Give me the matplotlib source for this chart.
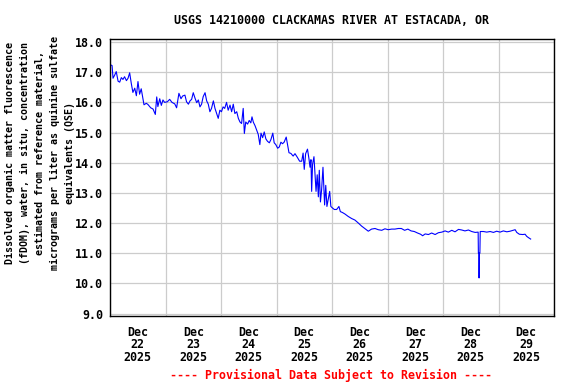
#!/usr/bin/env python3
"""USGS 14210000 Clackamas River at Estacada, OR - fDOM, Dec 22-29 2025."""

from datetime import datetime, timedelta

import matplotlib
matplotlib.use("Agg")
import matplotlib.pyplot as plt
import matplotlib.dates as mdates
from matplotlib.ticker import FormatStrFormatter, NullFormatter

# Timer etter Dec 22 00:00 og verdier lest av grafen (QSE, ug/L)
hours = [
    0.0, 0.9, 1.3, 2.0, 2.7, 3.5, 4.2, 4.9, 5.6, 6.3, 7.1, 7.8, 8.5, 9.2, 9.9,
    10.7, 11.4, 12.1, 12.8, 13.5, 14.1, 14.7, 15.7, 16.4, 17.6, 18.6, 19.6, 20.2,
    20.7, 21.5, 22.2, 22.9, 23.6, 24.8, 25.8, 26.8, 28.0, 28.8, 29.8, 30.7, 31.4,
    32.4, 33.1, 33.9, 34.6, 35.3, 36.0, 36.8, 37.5, 38.2, 38.9, 39.6, 40.3, 41.1,
    41.8, 42.5, 43.2, 43.9, 44.7, 45.4, 46.1, 46.8, 47.5, 48.2, 48.9, 49.6, 50.4,
    51.1, 51.9, 52.6, 53.3, 54.0, 54.8, 55.5, 56.2, 56.9, 57.6, 58.1, 58.7, 59.5,
    60.2, 60.9, 61.4, 62.0, 62.7, 63.4, 64.1, 64.8, 65.3, 66.0, 66.7, 67.4, 68.1,
    68.9, 69.6, 70.4, 71.0, 71.7, 72.5, 73.2, 73.9, 74.6, 75.3, 76.2, 76.8, 77.4,
    78.2, 79.2, 80.0, 81.0, 82.0, 82.9, 83.5, 84.0, 84.6, 85.4, 86.0, 86.5, 86.9,
    87.2, 87.6, 88.2, 88.8, 89.1, 89.6, 90.1, 90.5, 91.0, 91.5, 92.1, 92.8, 93.3,
    93.8, 94.4, 95.0, 95.5, 96.2, 97.0, 98.0, 99.0, 99.6, 100.5, 101.6, 103.0,
    104.5, 105.9, 107.4, 108.8, 110.2, 111.7, 113.1, 114.6, 116.0, 117.5, 118.9,
    120.3, 121.8, 123.2, 124.7, 126.0, 127.4, 128.8, 130.2, 131.6, 133.0, 134.3,
    135.2, 136.3, 137.7, 139.1, 140.6, 142.0, 143.5, 144.9, 146.3, 147.8, 149.2,
    150.7, 152.1, 153.5, 155.0, 156.4, 157.9, 159.2, 159.3, 159.55, 159.6, 159.7,
    159.95, 160.1, 161.5, 162.9, 164.4, 165.8, 167.2, 168.7, 170.1, 171.6, 173.0,
    174.4, 175.2, 175.9, 177.0, 178.5, 179.5, 180.2, 180.9, 181.9,
]
fdom = [
    17.25, 17.22, 16.8, 16.9, 17.02, 16.7, 16.67, 16.82, 16.76, 16.85, 16.72, 16.8,
    16.98, 16.63, 16.33, 16.47, 16.22, 16.69, 16.27, 16.45, 16.19, 15.92, 15.97,
    15.93, 15.82, 15.78, 15.6, 16.18, 15.86, 16.12, 15.9, 16.08, 16.0, 16.02, 16.1,
    16.0, 15.95, 15.82, 16.3, 16.12, 16.21, 16.24, 16.02, 15.94, 16.05, 16.1, 16.32,
    16.13, 15.99, 16.08, 15.85, 15.94, 16.19, 16.32, 16.05, 15.94, 15.69, 15.8,
    16.05, 15.8, 15.63, 15.47, 15.74, 15.69, 15.85, 15.8, 16.0, 15.74, 15.91, 15.69,
    15.94, 15.63, 15.69, 15.47, 15.35, 15.3, 15.8, 14.97, 15.35, 15.28, 15.4, 15.32,
    15.52, 15.34, 15.23, 15.09, 14.94, 14.6, 14.98, 14.83, 15.02, 14.79, 14.71,
    14.66, 14.77, 14.98, 14.66, 14.6, 14.48, 14.52, 14.68, 14.63, 14.68, 14.85,
    14.6, 14.33, 14.31, 14.22, 14.3, 14.18, 14.05, 14.05, 14.32, 13.78, 14.3, 14.45,
    14.15, 13.85, 14.1, 13.05, 13.95, 14.2, 13.4, 13.05, 13.6, 12.87, 13.75, 12.7,
    13.1, 13.85, 12.6, 13.25, 12.55, 12.8, 13.05, 12.55, 12.5, 12.45, 12.45, 12.55,
    12.38, 12.35, 12.3, 12.22, 12.15, 12.1, 12.0, 11.9, 11.82, 11.73, 11.8, 11.82,
    11.78, 11.76, 11.81, 11.78, 11.8, 11.8, 11.82, 11.82, 11.76, 11.8, 11.74, 11.72,
    11.67, 11.63, 11.58, 11.64, 11.62, 11.67, 11.62, 11.68, 11.7, 11.74, 11.7,
    11.76, 11.71, 11.79, 11.77, 11.74, 11.77, 11.72, 11.69, 11.7, 11.0, 11.0,
    10.18, 11.0, 11.0, 11.72, 11.72, 11.7, 11.72, 11.69, 11.73, 11.7, 11.74, 11.71,
    11.73, 11.76, 11.78, 11.69, 11.63, 11.62, 11.63, 11.56, 11.52, 11.47,
]

start = datetime(2025, 12, 22)
y_ticks = [9.0, 10.0, 11.0, 12.0, 13.0, 14.0, 15.0, 16.0, 17.0, 18.0]

title = "USGS 14210000 CLACKAMAS RIVER AT ESTACADA, OR"
ylabel = ("Dissolved organic matter fluorescence\n"
          "(fDOM), water, in situ, concentration\n"
          "estimated from reference material,\n"
          "micrograms per liter as quinine sulfate\n"
          "equivalents (QSE)")
footer = "---- Provisional Data Subject to Revision ----"

FONT = "DejaVu Sans Mono"


def main():
    times = [start + timedelta(hours=h) for h in hours]

    fig = plt.figure(figsize=(5.76, 3.84), dpi=100)
    ax = fig.add_axes([110 / 576, 68 / 384, 444 / 576, 277 / 384])

    ax.plot(times, fdom, color="#0000ff", lw=0.8)

    ax.set_xlim(start, start + timedelta(days=8))
    ax.set_ylim(8.92, 18.1)
    ax.set_yticks(y_ticks)
    ax.yaxis.set_major_formatter(FormatStrFormatter("%.1f"))

    # Rutenett ved midnatt, etiketter midt på dagen
    ax.xaxis.set_major_locator(mdates.DayLocator())
    ax.xaxis.set_major_formatter(NullFormatter())
    ax.xaxis.set_minor_locator(mdates.HourLocator(byhour=[12]))
    ax.xaxis.set_minor_formatter(mdates.DateFormatter("%b\n%d\n%Y"))

    ax.grid(True, which="major", color="#cccccc", lw=0.9)
    ax.set_axisbelow(True)
    ax.tick_params(which="both", length=0)
    ax.tick_params(axis="y", pad=5)
    ax.tick_params(axis="x", which="minor", pad=7)
    for lab in ax.get_yticklabels():
        lab.set_fontfamily(FONT)
        lab.set_fontweight("bold")
        lab.set_fontsize(8.4)
    for lab in ax.xaxis.get_minorticklabels():
        lab.set_fontfamily(FONT)
        lab.set_fontweight("bold")
        lab.set_fontsize(8.4)
        lab.set_linespacing(0.95)
        lab.set_horizontalalignment("center")
    for sp in ax.spines.values():
        sp.set_color("black")
        sp.set_linewidth(1.0)

    fig.text(332 / 576, 1 - 20 / 384, title, ha="center", va="center",
             family=FONT, fontweight="bold", fontsize=8.4)
    fig.text(40 / 576, 1 - 153 / 384, ylabel, ha="center", va="center",
             rotation=90, multialignment="center", family=FONT,
             fontweight="bold", fontsize=7.2, linespacing=1.65)
    fig.text(331 / 576, 1 - 375 / 384, footer, ha="center", va="center",
             family=FONT, fontweight="bold", fontsize=8.4, color="red")

    fig.savefig("out.png", dpi=100)


if __name__ == "__main__":
    main()
